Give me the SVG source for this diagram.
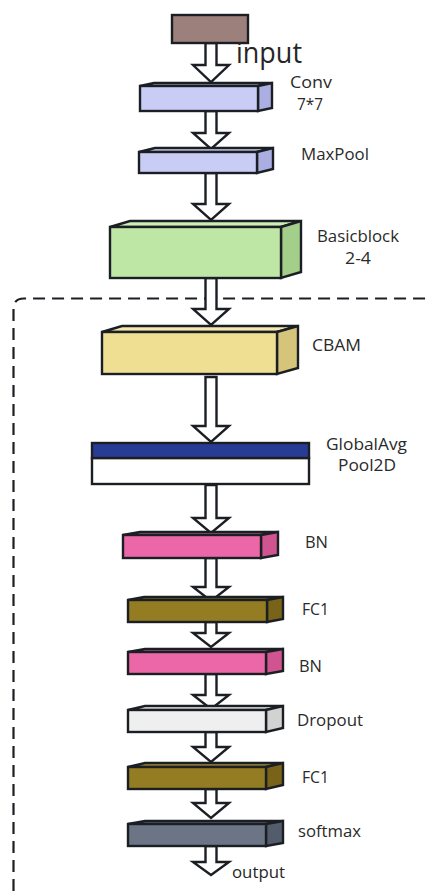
<svg xmlns="http://www.w3.org/2000/svg" width="430" height="891" viewBox="0 0 430 891">
  <style>
    .ol { stroke: #1b1f24; stroke-width: 2.4; stroke-linejoin: miter; }
    .arrow { fill: #ffffff; stroke: #1b1f24; stroke-width: 2.4; stroke-linejoin: miter; }
    .lbl { font-family: "Open Sans", "Noto Sans", sans-serif; font-size: 16px; fill: #2a2a2a; }
    .big { font-family: "Open Sans", "Noto Sans", sans-serif; fill: #262626; }
    .lav-f { fill: #c9ccf5; } .lav-t { fill: #d6d8f8; } .lav-s { fill: #abaee0; }
    .grn-f { fill: #bee7a5; } .grn-t { fill: #cdeeb8; } .grn-s { fill: #a3cf8a; }
    .yel-f { fill: #efdf93; } .yel-t { fill: #f4e8ae; } .yel-s { fill: #d5c47a; }
    .pnk-f { fill: #ec67a7; } .pnk-t { fill: #f084b8; } .pnk-s { fill: #cf548f; }
    .olv-f { fill: #947c22; } .olv-t { fill: #a58e36; } .olv-s { fill: #786319; }
    .gry-f { fill: #efefef; } .gry-t { fill: #f6f6f6; } .gry-s { fill: #d2d2d2; }
    .slt-f { fill: #6b7586; } .slt-t { fill: #7e8797; } .slt-s { fill: #525c6b; }
  </style>

  <!-- dashed frame around the classification head -->
  <path d="M13.5,891 L13.5,309 Q13.5,298.5 24,298.5 L430,298.5" fill="none" stroke="#1b1f24" stroke-width="2.2" stroke-dasharray="12 7"/>

  <!-- hollow block arrows between the layers -->
  <g id="connectors">
    <path class="arrow" d="M205.5,43 V65 H193 L211,82 L229,65 H216.5 V43 Z"/>
    <path class="arrow" d="M205.5,111 V133 H193 L211,149 L229,133 H216.5 V111 Z"/>
    <path class="arrow" d="M205.5,173 V204 H193 L211,220 L229,204 H216.5 V173 Z"/>
    <path class="arrow" d="M205.5,278 V309 H193 L211,325 L229,309 H216.5 V278 Z"/>
    <path class="arrow" d="M205.5,377 V426 H193 L211,442 L229,426 H216.5 V377 Z"/>
    <path class="arrow" d="M205.5,485 V518 H193 L211,533 L229,518 H216.5 V485 Z"/>
    <path class="arrow" d="M205.5,558 V587 H193 L211,601 L229,587 H216.5 V558 Z"/>
    <path class="arrow" d="M205.5,622 V633 H193 L211,647 L229,633 H216.5 V622 Z"/>
    <path class="arrow" d="M205.5,674 V695 H193 L211,709 L229,695 H216.5 V674 Z"/>
    <path class="arrow" d="M205.5,732 V747 H193 L211,762 L229,747 H216.5 V732 Z"/>
    <path class="arrow" d="M205.5,789 V803 H193 L211,818 L229,803 H216.5 V789 Z"/>
    <path class="arrow" d="M205.5,846 V862 H193 L211,875 L229,862 H216.5 V846 Z"/>
  </g>

  <g id="input">
    <rect class="ol" x="172" y="15" width="76" height="28" fill="#9b807b"/>
    <text class="big" x="236" y="63" font-size="29" textLength="66" lengthAdjust="spacingAndGlyphs">input</text>
  </g>

  <g id="conv">
    <polygon class="ol lav-t" points="140,86 154,83 272,83 258,86"/>
    <polygon class="ol lav-s" points="258,86 272,83 272,108 258,111"/>
    <rect class="ol lav-f" x="140" y="86" width="118" height="25"/>
    <text class="lbl" x="290" y="88" textLength="42" lengthAdjust="spacingAndGlyphs">Conv</text>
    <text class="lbl" x="297" y="110" textLength="26" lengthAdjust="spacingAndGlyphs">7*7</text>
  </g>

  <g id="maxpool">
    <polygon class="ol lav-t" points="139,152 155,148 273,148 257,152"/>
    <polygon class="ol lav-s" points="257,152 273,148 273,169 257,173"/>
    <rect class="ol lav-f" x="139" y="152" width="118" height="21"/>
    <text class="lbl" x="301" y="160" textLength="68" lengthAdjust="spacingAndGlyphs">MaxPool</text>
  </g>

  <g id="basicblock">
    <polygon class="ol grn-t" points="110,227 130,221 301,221 281,227"/>
    <polygon class="ol grn-s" points="281,227 301,221 301,272 281,278"/>
    <rect class="ol grn-f" x="110" y="227" width="171" height="51"/>
    <text class="lbl" x="317" y="242" textLength="82" lengthAdjust="spacingAndGlyphs">Basicblock</text>
    <text class="lbl" x="345" y="264" textLength="26" lengthAdjust="spacingAndGlyphs">2-4</text>
  </g>

  <g id="cbam">
    <polygon class="ol yel-t" points="102,332 122,326 298,326 277,332"/>
    <polygon class="ol yel-s" points="277,332 298,326 298,368 277,374"/>
    <rect class="ol yel-f" x="102" y="332" width="175" height="42"/>
    <text class="lbl" x="312" y="351" textLength="49" lengthAdjust="spacingAndGlyphs">CBAM</text>
  </g>

  <g id="globalavgpool">
    <rect class="ol" x="92" y="458" width="217" height="26" fill="#ffffff"/>
    <rect class="ol" x="92" y="443" width="217" height="15" fill="#283c96"/>
    <text class="lbl" x="326" y="450" font-size="15" textLength="81" lengthAdjust="spacingAndGlyphs">GlobalAvg</text>
    <text class="lbl" x="338" y="471" font-size="15" textLength="58" lengthAdjust="spacingAndGlyphs">Pool2D</text>
  </g>

  <g id="bn1">
    <polygon class="ol pnk-t" points="123,535 140,532 278,532 261,535"/>
    <polygon class="ol pnk-s" points="261,535 278,532 278,555 261,558"/>
    <rect class="ol pnk-f" x="123" y="535" width="138" height="23"/>
    <text class="lbl" x="305" y="548" textLength="23" lengthAdjust="spacingAndGlyphs">BN</text>
  </g>

  <g id="fc1-a">
    <polygon class="ol olv-t" points="128,600 144,597 283,597 267,600"/>
    <polygon class="ol olv-s" points="267,600 283,597 283,619 267,622"/>
    <rect class="ol olv-f" x="128" y="600" width="139" height="22"/>
    <text class="lbl" x="302" y="615" textLength="27" lengthAdjust="spacingAndGlyphs">FC1</text>
  </g>

  <g id="bn2">
    <polygon class="ol pnk-t" points="128,652 145,649 283,649 266,652"/>
    <polygon class="ol pnk-s" points="266,652 283,649 283,671 266,674"/>
    <rect class="ol pnk-f" x="128" y="652" width="138" height="22"/>
    <text class="lbl" x="299" y="672" textLength="23" lengthAdjust="spacingAndGlyphs">BN</text>
  </g>

  <g id="dropout">
    <polygon class="ol gry-t" points="128,710 145,706 283,706 266,710"/>
    <polygon class="ol gry-s" points="266,710 283,706 283,728 266,732"/>
    <rect class="ol gry-f" x="128" y="710" width="138" height="22"/>
    <text class="lbl" x="297" y="726" textLength="66" lengthAdjust="spacingAndGlyphs">Dropout</text>
  </g>

  <g id="fc1-b">
    <polygon class="ol olv-t" points="128,767 145,763 283,763 266,767"/>
    <polygon class="ol olv-s" points="266,767 283,763 283,785 266,789"/>
    <rect class="ol olv-f" x="128" y="767" width="138" height="22"/>
    <text class="lbl" x="302" y="783" textLength="27" lengthAdjust="spacingAndGlyphs">FC1</text>
  </g>

  <g id="softmax">
    <polygon class="ol slt-t" points="128,824 145,821 283,821 266,824"/>
    <polygon class="ol slt-s" points="266,824 283,821 283,843 266,846"/>
    <rect class="ol slt-f" x="128" y="824" width="138" height="22"/>
    <text class="lbl" x="298" y="837" textLength="63" lengthAdjust="spacingAndGlyphs">softmax</text>
  </g>

  <g id="output">
    <text class="big" x="232" y="878" font-size="17" textLength="53" lengthAdjust="spacingAndGlyphs">output</text>
  </g>
</svg>
